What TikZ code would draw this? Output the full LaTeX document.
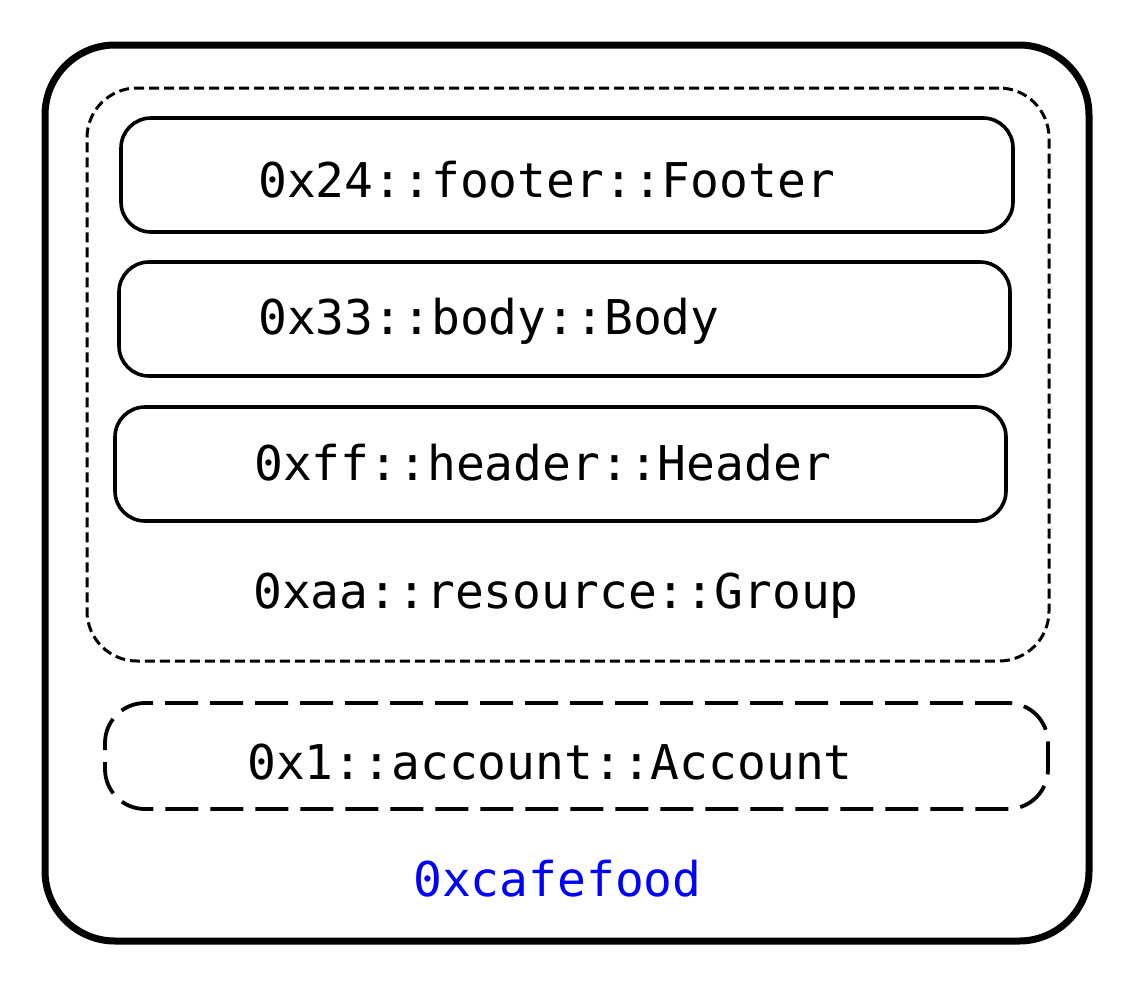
\documentclass[tikz,border=0pt]{standalone}
\usepackage{fontspec}
\setmonofont{DejaVu Sans Mono}
\usetikzlibrary{positioning}

\tikzset{
  boxline/.style={draw,line width=3.6pt,rounded corners=30pt},
  label/.style={anchor=base west,inner sep=0pt,font=\ttfamily\fontsize{47.9}{50}\selectfont}
}

\begin{document}
\begin{tikzpicture}[x=1pt,y=-1pt]
  \useasboundingbox (0,0) rectangle (1142,1001);

  % outer box
  \node (outer) [draw,line width=7pt,rounded corners=70pt,minimum width=1044pt,minimum height=896pt] at (567,493) {};

  % resource group
  \node (group) [draw,line width=3pt,rounded corners=50pt,dash pattern=on 10pt off 5pt,minimum width=962pt,minimum height=573pt] at (568,374.5) {};

  \node (footer) [boxline,minimum width=892pt,minimum height=114pt] at (567,175) {};
  \node (body) [boxline,minimum width=891pt,minimum height=114pt] at (564.5,319) {};
  \node (header) [boxline,minimum width=891pt,minimum height=114pt] at (560.5,464) {};

  \node (footertext) [label] at (258,197) {0x24::footer::Footer};
  \node (bodytext) [label] at (258,334) {0x33::body::Body};
  \node (headertext) [label] at (254,480) {0xff::header::Header};
  \node (grouptext) [label] at (253,608) {0xaa::resource::Group};

  % account
  \node (account) [draw,line width=3.8pt,rounded corners=40pt,dash pattern=on 33pt off 12pt,minimum width=943pt,minimum height=106pt] at (576.5,756) {};
  \node (accounttext) [label] at (247,779) {0x1::account::Account};

  \node (address) [label,text=blue] at (413,896) {0xcafefood};
\end{tikzpicture}
\end{document}
